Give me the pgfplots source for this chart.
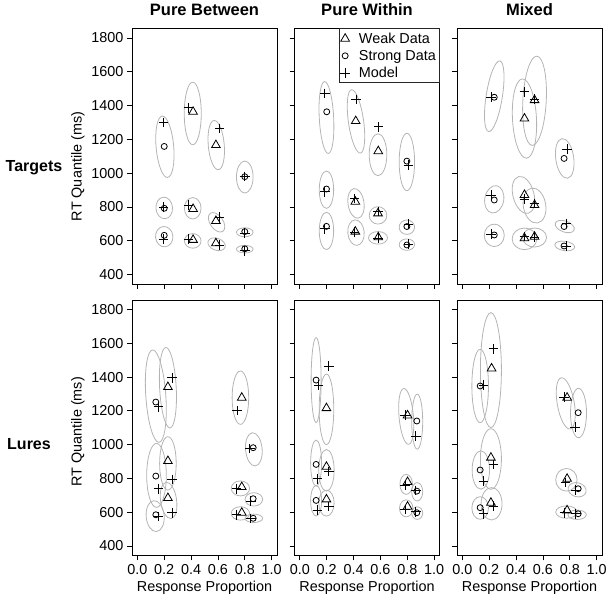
\documentclass[border=0pt]{standalone}
\usepackage{fontspec}
\setmainfont{Liberation Sans}
\usepackage{pgfplots}
\pgfplotsset{compat=1.18}
\usepgfplotslibrary{groupplots}

\definecolor{ellgray}{RGB}{180,180,180}
% ellipse: centre x, centre y (axis units), radii (pt), rotation (deg)
\newcommand{\ellip}[5]{\draw[ellgray, line width=0.8pt, rotate around={#5:(axis cs:#1,#2)}] (axis cs:#1,#2) ellipse [x radius=#3pt, y radius=#4pt];}

\pgfplotsset{
  wk/.style={black, only marks, mark=triangle, mark size=5pt, mark options={solid, line width=0.8pt}},
  st/.style={black, only marks, mark=o, mark size=3pt, mark options={solid, line width=0.8pt}},
  md/.style={black, only marks, mark=+, mark size=4.8pt, mark options={solid, line width=0.8pt}},
}

\begin{document}
\begin{tikzpicture}
\begin{groupplot}[
  group style={group size=3 by 2, horizontal sep=17.5pt, vertical sep=16pt,
               xticklabels at=edge bottom, yticklabels at=edge left},
  scale only axis, width=145pt, height=255.5pt,
  xmin=-0.04, xmax=1.04, ymin=344, ymax=1856,
  xtick={0,0.2,0.4,0.6,0.8,1},
  ytick={400,600,800,1000,1200,1400,1600,1800},
  tick align=outside, xtick pos=left, ytick pos=left,
  major tick length=5pt,
  every tick/.style={black, line width=0.8pt},
  axis line style={black, line width=0.8pt},
  tick label style={font=\fontsize{14.4}{16}\selectfont},
  label style={font=\fontsize{14.4}{16}\selectfont},
  title style={font=\bfseries\fontsize{16.5}{19}\selectfont, yshift=3.5pt},
  /pgf/number format/assume math mode=true,
  x tick label style={/pgf/number format/fixed, /pgf/number format/fixed zerofill, /pgf/number format/precision=1},
  y tick label style={/pgf/number format/1000 sep={}},
]

% ---------- Targets, Pure Between
\nextgroupplot[title={Pure Between}, ylabel={RT Quantile (ms)}, ylabel style={at={(ticklabel cs:0.46)}}]
\ellip{0.205}{1156}{8.8}{30.8}{5}
\ellip{0.2}{794}{8.3}{10.8}{5}
\ellip{0.2}{624}{8.7}{10.2}{5}
\ellip{0.4125}{1353}{8.5}{31.3}{0}
\ellip{0.4125}{792}{8.3}{10.7}{0}
\ellip{0.4125}{599}{8.3}{7.3}{0}
\ellip{0.5875}{1166}{8.0}{24.7}{5}
\ellip{0.59}{709}{6.5}{11}{35}
\ellip{0.59}{579}{9}{6}{-20}
\ellip{0.8}{977}{8.3}{16}{0}
\ellip{0.8}{650}{8.3}{4.5}{0}
\ellip{0.8}{550}{8.3}{3.8}{0}
\addplot[wk] coordinates {(0.415,1363) (0.415,788) (0.415,605) (0.585,1166) (0.585,717) (0.585,585)};
\addplot[st] coordinates {(0.20,1158) (0.20,792) (0.20,632) (0.80,979) (0.80,654) (0.80,552)};
\addplot[md] coordinates {(0.195,1300) (0.195,800) (0.195,610) (0.38,1387) (0.38,811) (0.38,610)
  (0.6125,1264) (0.6125,739) (0.6125,575) (0.80,980) (0.80,644) (0.80,540)};

% ---------- Targets, Pure Within
\nextgroupplot[title={Pure Within},
  legend style={at={(1,1)}, anchor=north east, draw=black!85, line width=1pt,
    font=\fontsize{14.4}{16}\selectfont, inner xsep=1pt, inner ysep=1.5pt, row sep=1pt,
    nodes={inner sep=2.2pt}},
  legend cell align=left,
  legend image code/.code={\path[draw=none] (-4.8pt,0pt) -- (11.6pt,0pt); \draw[#1] plot coordinates {(0pt,0pt)};}]
\ellip{0.198}{1329}{7.2}{36}{3}
\ellip{0.198}{902}{7.2}{18.7}{0}
\ellip{0.198}{658}{7.2}{18.7}{0}
\ellip{0.418}{1306}{7.6}{32}{8}
\ellip{0.418}{821}{8.0}{15}{8}
\ellip{0.418}{648}{8.2}{12.8}{5}
\ellip{0.582}{1109}{8.8}{21}{0}
\ellip{0.582}{750}{8.8}{8.7}{0}
\ellip{0.582}{617}{9.5}{6.3}{0}
\ellip{0.797}{1066}{7.7}{28.7}{0}
\ellip{0.797}{680}{7.7}{7.2}{0}
\ellip{0.797}{577}{7.7}{5.7}{0}
\addplot[wk] coordinates {(0.416,1308) (0.413,831) (0.413,654) (0.584,1130) (0.582,762) (0.584,620)};
\addplot[st] coordinates {(0.20,1363) (0.198,906) (0.198,685) (0.797,1071) (0.797,684) (0.797,575)};
\addplot[md] coordinates {(0.186,1471) (0.186,890) (0.186,670) (0.418,1436) (0.408,851) (0.408,650)
  (0.587,1274) (0.584,772) (0.584,615) (0.809,1048) (0.809,699) (0.809,581)};
\legend{Weak Data, Strong Data, Model}

% ---------- Targets, Mixed
\nextgroupplot[title={Mixed}]
\ellip{0.2375}{1455}{8.1}{35.8}{-9}
\ellip{0.2375}{845}{9.5}{13.8}{-10}
\ellip{0.2375}{632}{10}{11.2}{0}
\ellip{0.4625}{1323}{12}{39.7}{3}
\ellip{0.5375}{1428}{11.7}{44.7}{-3}
\ellip{0.455}{871}{10.5}{19}{15}
\ellip{0.5375}{808}{11.2}{17.7}{10}
\ellip{0.4625}{611}{12.3}{10.8}{0}
\ellip{0.5375}{619}{12}{9.5}{0}
\ellip{0.7625}{1087}{9}{20}{8}
\ellip{0.7625}{684}{10}{5.5}{-20}
\ellip{0.7625}{569}{10}{4.7}{-8}
\addplot[wk] coordinates {(0.4625,1323) (0.5375,1432) (0.4625,871) (0.5375,811) (0.4625,615) (0.5375,624)};
\addplot[st] coordinates {(0.2375,1449) (0.2375,841) (0.2375,634) (0.7575,1087) (0.7575,684) (0.7575,569)};
\addplot[md] coordinates {(0.2125,1449) (0.2125,871) (0.2125,640) (0.4625,1481) (0.5375,1438) (0.4625,847)
  (0.5375,821) (0.4625,624) (0.5375,620) (0.78,1142) (0.775,703) (0.775,569)};

% ---------- Lures, Pure Between
\nextgroupplot[xlabel={Response Proportion}, ylabel={RT Quantile (ms)}, ylabel style={at={(ticklabel cs:0.484)}}]
\ellip{0.1375}{1287}{10}{46.3}{4}
\ellip{0.2275}{1337}{8.3}{40.3}{3}
\ellip{0.1425}{818}{9.8}{32}{0}
\ellip{0.2275}{889}{8.3}{26.7}{0}
\ellip{0.2325}{670}{8.0}{18.3}{8}
\ellip{0.1325}{577}{9.0}{15.5}{5}
\ellip{0.7675}{1278}{8.3}{26.7}{0}
\ellip{0.8675}{972}{8.3}{16.7}{5}
\ellip{0.7675}{741}{9.2}{7.5}{0}
\ellip{0.8675}{676}{8.8}{6.7}{0}
\ellip{0.7675}{593}{9.2}{6.7}{0}
\ellip{0.8675}{564}{8.8}{4.2}{0}
\addplot[wk] coordinates {(0.2275,1341) (0.2275,903) (0.2275,684) (0.7775,1278) (0.7775,749) (0.7775,597)};
\addplot[st] coordinates {(0.1375,1252) (0.1375,814) (0.1375,585) (0.8625,982) (0.8625,680) (0.8625,564)};
\addplot[md] coordinates {(0.158,1224) (0.158,739) (0.158,574) (0.2575,1396) (0.2575,794) (0.2575,597)
  (0.7425,1203) (0.7375,739) (0.7375,585) (0.8375,978) (0.845,666) (0.845,564)};

% ---------- Lures, Pure Within
\nextgroupplot[xlabel={Response Proportion}]
\ellip{0.121}{1382}{5}{42.5}{0}
\ellip{0.198}{1209}{7.3}{35.3}{0}
\ellip{0.121}{891}{5.5}{23}{0}
\ellip{0.198}{848}{7.7}{20.8}{0}
\ellip{0.121}{668}{5.5}{15.3}{0}
\ellip{0.198}{654}{7.7}{13}{0}
\ellip{0.792}{1167}{7.2}{28}{5}
\ellip{0.874}{1136}{5.5}{27.5}{0}
\ellip{0.792}{765}{6.3}{10}{0}
\ellip{0.874}{721}{5.5}{9.2}{0}
\ellip{0.792}{623}{6.7}{8.5}{0}
\ellip{0.874}{595}{5.5}{6.3}{0}
\addplot[wk] coordinates {(0.198,1216) (0.198,869) (0.198,676) (0.802,1173) (0.802,779) (0.802,633)};
\addplot[st] coordinates {(0.121,1382) (0.121,883) (0.121,670) (0.871,1140) (0.871,725) (0.871,597)};
\addplot[md] coordinates {(0.139,1352) (0.131,798) (0.131,613) (0.215,1465) (0.215,840) (0.215,633)
  (0.785,1175) (0.785,759) (0.785,617) (0.864,1051) (0.864,729) (0.864,603)};

% ---------- Lures, Mixed
\nextgroupplot[xlabel={Response Proportion}]
\ellip{0.1325}{1347}{8.3}{36.7}{0}
\ellip{0.2125}{1441}{10.5}{57.5}{0}
\ellip{0.1375}{850}{8.7}{19.2}{0}
\ellip{0.2125}{915}{10.5}{30.3}{0}
\ellip{0.1325}{625}{8.3}{11.3}{0}
\ellip{0.2175}{650}{10.5}{16.2}{0}
\ellip{0.77}{1244}{8.5}{26}{10}
\ellip{0.865}{1187}{8}{24.7}{0}
\ellip{0.775}{792}{10.7}{11.3}{0}
\ellip{0.855}{733}{9.2}{7}{-15}
\ellip{0.775}{601}{10.7}{6.2}{0}
\ellip{0.855}{585}{9.2}{4.7}{0}
\addplot[wk] coordinates {(0.2175,1451) (0.2125,923) (0.2125,656) (0.78,1278) (0.78,798) (0.78,611)};
\addplot[st] coordinates {(0.1325,1347) (0.1325,850) (0.1325,627) (0.8625,1189) (0.8625,739) (0.8625,591)};
\addplot[md] coordinates {(0.1575,1352) (0.1575,785) (0.1575,591) (0.2325,1567) (0.2325,883) (0.2325,637)
  (0.7575,1281) (0.7675,775) (0.7625,597) (0.84,1104) (0.845,731) (0.845,591)};
\end{groupplot}

\node[font=\bfseries\fontsize{16}{19}\selectfont] at ([xshift=-98pt, yshift=-11pt]group c1r1.west) {Targets};
\node[font=\bfseries\fontsize{16}{19}\selectfont] at ([xshift=-103pt, yshift=-16.5pt]group c1r2.west) {Lures};
\path ([xshift=-132pt, yshift=27pt]group c1r1.north west) rectangle ++(612pt,-605pt);
\end{tikzpicture}
\end{document}
